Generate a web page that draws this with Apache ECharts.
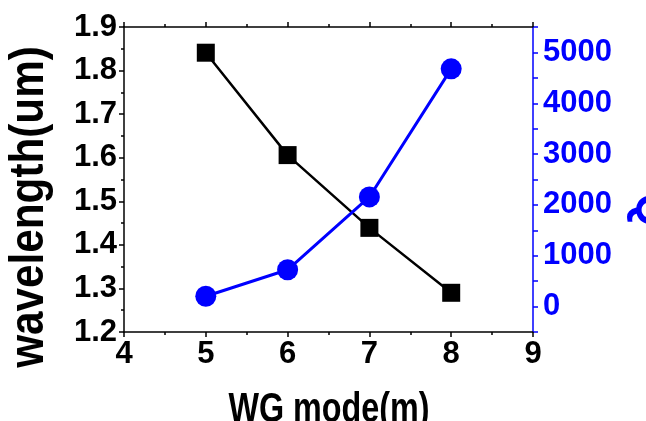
<!DOCTYPE html>
<html>
<head>
<meta charset="utf-8">
<script src="https://cdn.jsdelivr.net/npm/echarts@6/dist/echarts.min.js"></script>
<style>
html,body{margin:0;padding:0;background:#fff;}
#chart{width:646px;height:421px;}
</style>
</head>
<body>
<div id="chart"></div>
<script>
// Data
const wgMode = [5, 6, 7, 8];
const wavelength = [1.841, 1.606, 1.439, 1.290];
const qValues = [203, 724, 2157, 4677];
// Titles
const xTitle = 'WG mode(m)';
const yLeftTitle = 'wavelength(um)';
const yRightTitle = 'Q';

const FONT = "'Liberation Sans', Arial, sans-serif";
const BLUE = '#0000ff';

const chart = echarts.init(document.getElementById('chart'), null, {renderer: 'canvas'});

function axisCommon(color) {
  return {
    axisLine: {show: true, onZero: false, lineStyle: {color: color, width: 1.5}},
    axisTick: {show: true, inside: false, length: 5, lineStyle: {color: color, width: 1.5}},
    minorTick: {show: true, splitNumber: 2, length: 3, lineStyle: {color: color, width: 1.5}},
    splitLine: {show: false},
    minorSplitLine: {show: false}
  };
}

const option = {
  backgroundColor: '#ffffff',
  animation: false,
  grid: {left: 124, right: 113, top: 27, bottom: 89, containLabel: false, outerBoundsMode: 'none'},
  xAxis: [
    Object.assign({
      type: 'value', position: 'bottom', min: 4, max: 9, interval: 1,
      axisLabel: {show: true, margin: 7, color: '#000', fontSize: 31, fontWeight: 'bold', fontFamily: FONT}
    }, axisCommon('#000')),
    Object.assign({
      type: 'value', position: 'top', min: 4, max: 9, interval: 1,
      axisLabel: {show: false}
    }, axisCommon('#000'))
  ],
  yAxis: [
    Object.assign({
      type: 'value', position: 'left', min: 1.2, max: 1.9, interval: 0.1,
      axisLabel: {show: true, margin: 7, color: '#000', fontSize: 31, fontWeight: 'bold', fontFamily: FONT,
        formatter: v => v.toFixed(1)}
    }, axisCommon('#000')),
    Object.assign({
      type: 'value', position: 'right', min: -500, max: 5500, interval: 500,
      axisLabel: {show: true, margin: 10, color: BLUE, fontSize: 31, fontWeight: 'bold', fontFamily: FONT,
        formatter: v => (Math.round(v) % 1000 === 0 ? String(Math.round(v)) : '')}
    }, axisCommon(BLUE), {minorTick: {show: false}})
  ],
  series: [
    {
      type: 'line', xAxisIndex: 0, yAxisIndex: 0,
      data: wgMode.map((x, i) => [x, wavelength[i]]),
      symbol: 'rect', symbolSize: 18,
      itemStyle: {color: '#000'},
      lineStyle: {color: '#000', width: 2.5},
      z: 3
    },
    {
      type: 'line', xAxisIndex: 0, yAxisIndex: 1,
      data: wgMode.map((x, i) => [x, qValues[i]]),
      symbol: 'circle', symbolSize: 21,
      itemStyle: {color: BLUE},
      lineStyle: {color: BLUE, width: 3},
      z: 4
    }
  ],
  graphic: [
    {
      type: 'text', x: 30, y: 207, rotation: Math.PI / 2, scaleX: 0.88,
      style: {text: yLeftTitle, fill: '#000', font: "bold 48px " + FONT, align: 'center', verticalAlign: 'middle'}
    },
    {
      type: 'text', x: 329, y: 410, scaleX: 0.77,
      style: {text: xTitle, fill: '#000', font: "bold 42px " + FONT, align: 'center', verticalAlign: 'middle'}
    },
    {
      type: 'text', x: 650, y: 210, rotation: -Math.PI / 2, scaleX: 0.88,
      style: {text: yRightTitle, fill: BLUE, font: "bold 48px " + FONT, align: 'center', verticalAlign: 'middle'}
    }
  ]
};
chart.setOption(option);
</script>
</body>
</html>
